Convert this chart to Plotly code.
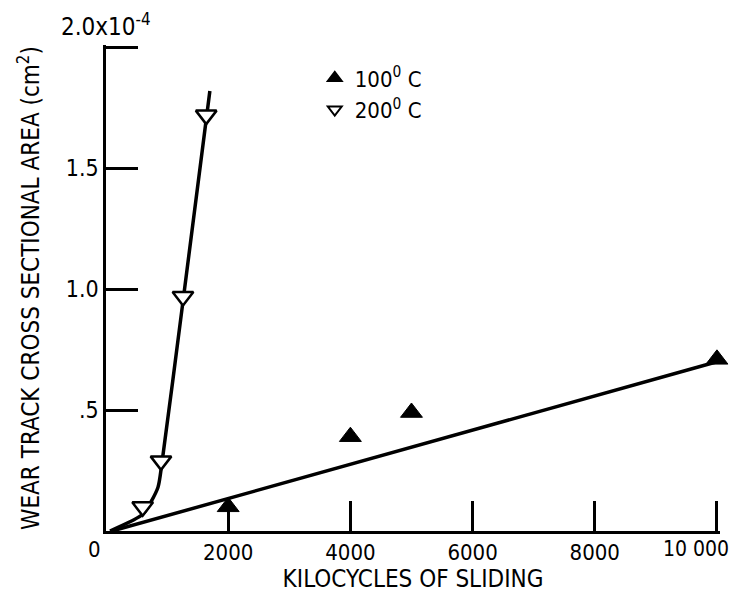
import plotly.graph_objects as go

# Data (y in units of 1e-4 cm^2, x in kilocycles)
x_100 = [2000, 4000, 5000, 10000]
y_100 = [0.10, 0.39, 0.49, 0.71]
x_200 = [600, 900, 1260, 1640]
y_200 = [0.10, 0.29, 0.97, 1.72]

# Fitted curves as drawn on the figure
fit100_x = [100, 10000]
fit100_y = [0.0, 0.70]
fit200_x = [65, 605, 850, 915, 1250, 1700]
fit200_y = [0.0, 0.07, 0.18, 0.28, 0.93, 1.82]

x_tickvals = [2000, 4000, 6000, 8000, 10000]
x_ticktext = ["2000", "4000", "6000", "8000", "10 000"]
y_tickvals = [0.5, 1.0, 1.5, 2.0]
y_ticktext = [".5", "1.0", "1.5", ""]

FONT = "DejaVu Sans Condensed, Liberation Sans Narrow, DejaVu Sans, sans-serif"

fig = go.Figure()
fig.add_trace(go.Scatter(x=fit100_x, y=fit100_y, mode="lines",
                         line=dict(color="black", width=3.5), showlegend=False,
                         cliponaxis=False))
fig.add_trace(go.Scatter(x=fit200_x, y=fit200_y, mode="lines",
                         line=dict(color="black", width=3.5, shape="spline", smoothing=0.6),
                         showlegend=False, cliponaxis=False))
fig.add_trace(go.Scatter(x=x_100, y=y_100, mode="markers", name="100<sup>0</sup> C",
                         marker=dict(symbol="triangle-up", size=19, color="black",
                                     line=dict(color="black", width=1)),
                         cliponaxis=False))
fig.add_trace(go.Scatter(x=x_200, y=y_200, mode="markers", name="200<sup>0</sup> C",
                         marker=dict(symbol="triangle-down", size=18, color="white",
                                     line=dict(color="black", width=2.5)),
                         cliponaxis=False))

# last tick label is drawn as an annotation, anchored so it stays on the page
axis_ticktext = x_ticktext[:-1] + [""]

# page body adds an 8px margin; figure size/margins compensate for it
fig.update_layout(
    width=738, height=588,
    margin=dict(l=98, r=26, t=37, b=65, autoexpand=False),
    plot_bgcolor="white", paper_bgcolor="white",
    font=dict(family=FONT, size=21, color="black"),
    legend=dict(x=0.34, y=0.975, xanchor="left", yanchor="top",
                bgcolor="rgba(0,0,0,0)", font=dict(size=22),
                itemsizing="constant", tracegroupgap=0),
    xaxis=dict(range=[0, 10050], showline=True, linecolor="black", linewidth=2.5,
               ticks="inside", ticklen=30, tickwidth=2.5, tickcolor="black",
               tickvals=x_tickvals, ticktext=axis_ticktext, showgrid=False, zeroline=False,
               automargin=False, tickfont=dict(size=22),
               title=dict(text="KILOCYCLES OF SLIDING", font=dict(size=24), standoff=0)),
    yaxis=dict(range=[0, 2.01], showline=True, linecolor="black", linewidth=2.5,
               ticks="inside", ticklen=32, tickwidth=2.5, tickcolor="black",
               tickvals=y_tickvals, ticktext=y_ticktext, showgrid=False, zeroline=False,
               automargin=False, tickfont=dict(size=23),
               title=dict(text="WEAR TRACK CROSS SECTIONAL AREA (cm<sup>2</sup>)",
                          font=dict(size=24), standoff=20)),
    annotations=[
        dict(text="2.0x10<sup>-4</sup>", x=0, y=2.0, xref="x", yref="y",
             xanchor="center", yanchor="bottom", showarrow=False, yshift=4,
             font=dict(size=24)),
        dict(text="0", x=0, y=0, xref="x", yref="y", xanchor="center", yanchor="top",
             showarrow=False, xshift=-12, yshift=-4, font=dict(size=22)),
        dict(text=x_ticktext[-1], x=x_tickvals[-1], y=0, xref="x", yref="y",
             xanchor="right", yanchor="top", showarrow=False, xshift=14, yshift=-4,
             font=dict(size=21)),
    ],
)

fig.write_html("out.html")
